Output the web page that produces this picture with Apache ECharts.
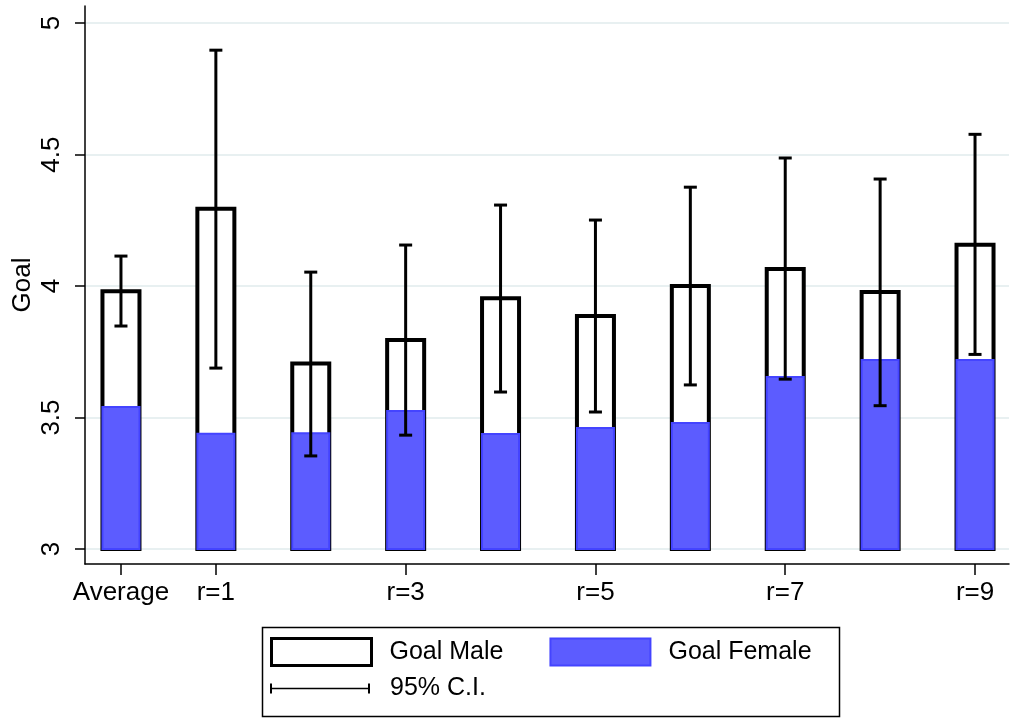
<!DOCTYPE html>
<html>
<head>
<meta charset="utf-8">
<script src="https://cdn.jsdelivr.net/npm/echarts@6/dist/echarts.min.js"></script>
<style>
html,body{margin:0;padding:0;background:#fff;}
#chart{width:1013px;height:719px;}
</style>
</head>
<body>
<div id="chart"></div>
<script>
// ---- data ----
const categories = ['Average','r=1','r=2','r=3','r=4','r=5','r=6','r=7','r=8','r=9'];
const labeledIdx = [0,1,3,5,7,9];
const goalMale   = [3.98, 4.294, 3.705, 3.795, 3.954, 3.886, 4.000, 4.065, 3.977, 4.157];
const goalFemale = [3.540, 3.438, 3.440, 3.525, 3.437, 3.460, 3.479, 3.654, 3.719, 3.719];
const ciLow      = [3.848, 3.688, 3.354, 3.433, 3.597, 3.521, 3.624, 3.646, 3.545, 3.740];
const ciHigh     = [4.114, 4.897, 4.053, 4.156, 4.308, 4.251, 4.376, 4.487, 4.407, 4.577];
const yTicks = [3, 3.5, 4, 4.5, 5];
const BASE = 3;

const FONT = '"Liberation Sans", Arial, Helvetica, sans-serif';
const BAR_W = 0.39; // in category units

const maleData = goalMale.map((v,i)=>[i, v]);
const femaleData = goalFemale.map((v,i)=>[i, v]);
const ciData = ciLow.map((lo,i)=>[i, lo, ciHigh[i]]);

function makeBar(fill, stroke, lw){
  return function(params, api){
    const x = api.value(0), v = api.value(1);
    const p0 = api.coord([x, BASE]);
    const p1 = api.coord([x, v]);
    const w = api.size([BAR_W, 0])[0];
    return {
      type:'rect',
      shape:{x:p0[0]-w/2, y:p1[1], width:w, height:p0[1]-p1[1]},
      style:{fill:fill, stroke:stroke, lineWidth:lw}
    };
  };
}

function ciItem(params, api){
  const x = api.value(0);
  const lo = api.coord([x, api.value(1)]);
  const hi = api.coord([x, api.value(2)]);
  const hw = 6.5;
  const st = {stroke:'#000', lineWidth:3};
  return {
    type:'group',
    children:[
      {type:'line', shape:{x1:lo[0], y1:lo[1], x2:hi[0], y2:hi[1]}, style:st},
      {type:'line', shape:{x1:lo[0]-hw, y1:lo[1], x2:lo[0]+hw, y2:lo[1]}, style:st},
      {type:'line', shape:{x1:hi[0]-hw, y1:hi[1], x2:hi[0]+hw, y2:hi[1]}, style:st}
    ]
  };
}

const chart = echarts.init(document.getElementById('chart'), null, {renderer:'canvas'});
chart.setOption({
  backgroundColor:'#fff',
  animation:false,
  grid:{left:85, right:4, top:6, bottom:155, containLabel:false, outerBoundsMode:'none'},
  xAxis:{
    type:'value', min:-0.379, max:9.358,
    axisLine:{show:true, onZero:false, lineStyle:{color:'#000', width:1.5}},
    axisTick:{show:true, length:11, customValues:labeledIdx, lineStyle:{color:'#000', width:1.5}},
    axisLabel:{customValues:labeledIdx, margin:16, fontSize:26, fontFamily:FONT, color:'#000',
      formatter:(v)=>categories[Math.round(v)]},
    splitLine:{show:false}
  },
  yAxis:{
    type:'value', min:2.943, max:5.065,
    name:'Goal', nameLocation:'middle', nameGap:49, nameRotate:90, nameMoveOverlap:false,
    nameTextStyle:{fontSize:26, fontFamily:FONT, color:'#000'},
    axisLine:{show:true, onZero:false, lineStyle:{color:'#000', width:1.5}},
    axisTick:{show:true, length:10, customValues:yTicks, lineStyle:{color:'#000', width:1.5}},
    axisLabel:{customValues:yTicks, rotate:90, margin:20, fontSize:26, fontFamily:FONT, color:'#000'},
    splitLine:{show:true, lineStyle:{color:'#e8f0f1', width:2}}
  },
  legend:[
    {
      data:[
        {name:'Goal Male', icon:'rect', itemStyle:{color:'#fff', borderColor:'#000', borderWidth:3}},
        {name:'Goal Female', icon:'rect', itemStyle:{color:'#5c5cff', borderColor:'#4444ff', borderWidth:2}}
      ],
      left:270, top:637, padding:0, itemWidth:100, itemHeight:27, itemGap:46,
      selectedMode:false,
      textStyle:{fontSize:25, fontFamily:FONT, color:'#000', padding:[0,0,0,13]}
    },
    {
      data:[{name:'95% C.I.', icon:'path://M0,0H2V10H0ZM0,4.3H100V5.7H0ZM98,0H100V10H98Z', itemStyle:{color:'#000'}}],
      left:270, top:676, padding:0, itemWidth:100, itemHeight:10,
      selectedMode:false,
      textStyle:{fontSize:25, fontFamily:FONT, color:'#000', padding:[0,0,0,15]}
    }
  ],
  graphic:[
    {type:'rect', left:260, top:625, shape:{width:577, height:89}, style:{fill:'none', stroke:'#000', lineWidth:1.5}, silent:true}
  ],
  series:[
    {name:'Goal Male', type:'custom', data:maleData, renderItem:makeBar('#fff','#000',4),
      itemStyle:{color:'#fff', borderColor:'#000'}, encode:{x:0, y:1}, z:2},
    {name:'Goal Female', type:'custom', data:femaleData, renderItem:makeBar('#5c5cff','#4444ff',2),
      itemStyle:{color:'#5c5cff'}, encode:{x:0, y:1}, z:3},
    {name:'95% C.I.', type:'custom', data:ciData, renderItem:ciItem,
      itemStyle:{color:'#000'}, encode:{x:0, y:[1,2]}, z:4}
  ]
});
</script>
</body>
</html>
